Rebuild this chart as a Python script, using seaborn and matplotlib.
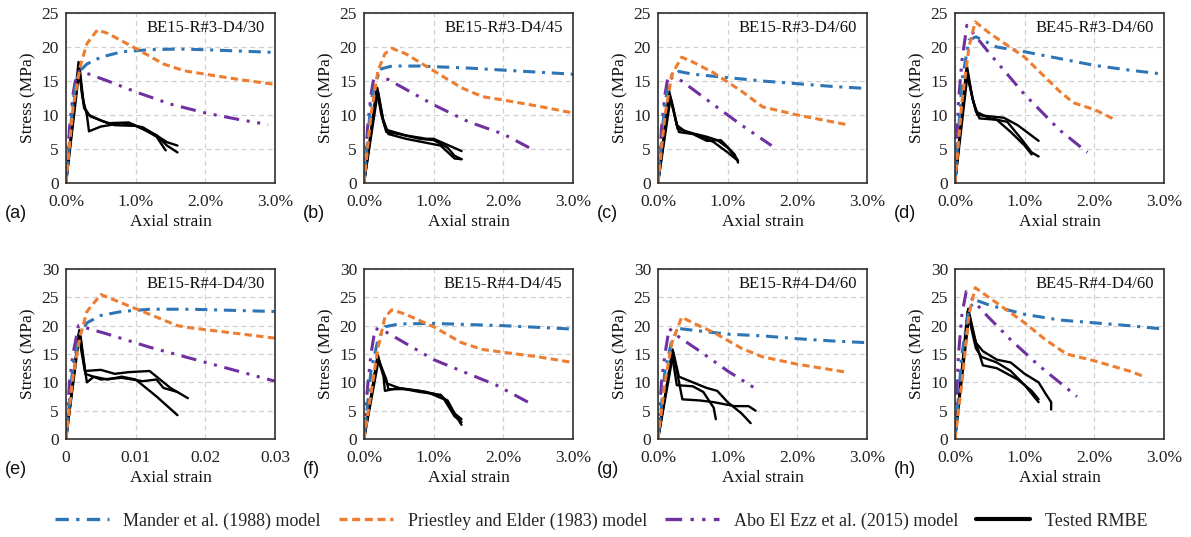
import numpy as np
import pandas as pd
import matplotlib
matplotlib.use("Agg")
import matplotlib.pyplot as plt
import seaborn as sns
from matplotlib.ticker import PercentFormatter, FuncFormatter, MultipleLocator
from matplotlib.lines import Line2D

# ---------------- data (strain as fraction, stress in MPa) ----------------
titles = ["BE15-R#3-D4/30", "BE15-R#3-D4/45", "BE15-R#3-D4/60", "BE45-R#3-D4/60",
          "BE15-R#4-D4/30", "BE15-R#4-D4/45", "BE15-R#4-D4/60", "BE45-R#4-D4/60"]
letters = ["(a)", "(b)", "(c)", "(d)", "(e)", "(f)", "(g)", "(h)"]
y_max = [25, 25, 25, 25, 30, 30, 30, 30]
x_ticks = [0, 0.01, 0.02, 0.03]
legend_labels = ["Mander et al. (1988) model", "Priestley and Elder (1983) model",
                 "Abo El Ezz et al. (2015) model", "Tested RMBE"]

# (a)
mander_a = [(0, 0), (0.001, 12), (0.0015, 15), (0.002, 16.5), (0.003, 17.5), (0.005, 18.5), (0.008, 19.3), (0.012, 19.6), (0.016, 19.7), (0.02, 19.6), (0.025, 19.4), (0.03, 19.2)]
priestley_a = [(0, 0), (0.001, 11), (0.002, 17), (0.003, 20.5), (0.0045, 22.5), (0.006, 22), (0.01, 19.8), (0.014, 17.5), (0.017, 16.5), (0.02, 16.0), (0.025, 15.2), (0.03, 14.5)]
abo_a = [(0, 0), (0.0005, 8), (0.001, 13), (0.0015, 16), (0.002, 16.5), (0.006, 15), (0.01, 13.4), (0.015, 11.6), (0.02, 10.3), (0.025, 9.3), (0.029, 8.6)]
test1_a = [(0, 0), (0.0019, 17.5), (0.0025, 12), (0.003, 10), (0.0033, 7.6), (0.005, 8.3), (0.008, 8.8), (0.011, 8.2), (0.013, 7), (0.0145, 6), (0.016, 5.5)]
test2_a = [(0, 0), (0.0018, 17.8), (0.0023, 13), (0.0027, 11), (0.0033, 10), (0.005, 9.2), (0.007, 8.5), (0.01, 8.4), (0.013, 7.0), (0.0145, 5.5), (0.016, 4.5)]
test3_a = [(0, 0), (0.0019, 16.5), (0.0026, 11), (0.0035, 9.8), (0.006, 8.8), (0.009, 8.9), (0.011, 8.0), (0.013, 6.8), (0.0143, 4.8)]

# (b)
mander_b = [(0, 0), (0.001, 12), (0.0017, 15), (0.0025, 16.8), (0.004, 17.2), (0.008, 17.2), (0.015, 16.9), (0.02, 16.6), (0.025, 16.3), (0.03, 16.0)]
priestley_b = [(0, 0), (0.001, 10), (0.002, 16.5), (0.003, 19), (0.004, 19.8), (0.006, 19), (0.01, 16.5), (0.014, 14), (0.017, 12.7), (0.02, 12.2), (0.025, 11.3), (0.03, 10.3)]
abo_b = [(0, 0), (0.0005, 8), (0.001, 13), (0.0015, 16), (0.0035, 15.2), (0.01, 11.5), (0.015, 9.0), (0.02, 7.2), (0.0237, 5.2)]
test1_b = [(0, 0), (0.0018, 13.8), (0.0025, 10), (0.0032, 7.5), (0.005, 7.2), (0.008, 6.5), (0.01, 6.3), (0.012, 5.2), (0.013, 4.0), (0.014, 3.5)]
test2_b = [(0, 0), (0.0019, 14), (0.0027, 9.5), (0.0033, 7.8), (0.006, 7.0), (0.009, 6.5), (0.01, 6.5), (0.012, 5.6), (0.014, 4.7)]
test3_b = [(0, 0), (0.0020, 13.5), (0.0028, 9), (0.0035, 7.2), (0.006, 6.5), (0.009, 5.9), (0.011, 5.5), (0.013, 3.6), (0.014, 3.5)]

# (c)
mander_c = [(0, 0), (0.001, 12), (0.0018, 15.3), (0.003, 16.4), (0.005, 16.0), (0.01, 15.5), (0.015, 15.0), (0.02, 14.6), (0.025, 14.2), (0.03, 13.9)]
priestley_c = [(0, 0), (0.001, 10), (0.002, 16), (0.0034, 18.5), (0.005, 17.8), (0.008, 16.2), (0.012, 13.5), (0.015, 11.2), (0.02, 10), (0.025, 9), (0.027, 8.6)]
abo_c = [(0, 0), (0.0005, 8), (0.001, 13), (0.0015, 16), (0.003, 15.3), (0.008, 11.5), (0.012, 8.5), (0.0163, 5.5)]
test1_c = [(0, 0), (0.0016, 13.5), (0.0022, 11), (0.0028, 8), (0.005, 7.3), (0.007, 6.8), (0.0085, 6.3), (0.01, 5.2), (0.0115, 3.3)]
test2_c = [(0, 0), (0.0017, 12.8), (0.0025, 9.5), (0.003, 7.5), (0.005, 7.2), (0.007, 6.2), (0.009, 6.3), (0.0095, 5.8), (0.011, 4.2), (0.0115, 3.0)]
test3_c = [(0, 0), (0.0018, 12.5), (0.0027, 8.5), (0.004, 7.5), (0.006, 7.0), (0.008, 6.0), (0.010, 4.5), (0.0112, 3.5)]

# (d)
mander_d = [(0, 0), (0.001, 15), (0.002, 21), (0.003, 21.5), (0.006, 20), (0.01, 19.3), (0.015, 18.3), (0.02, 17.3), (0.025, 16.6), (0.03, 16.0)]
priestley_d = [(0, 0), (0.001, 12), (0.002, 20), (0.0029, 23.7), (0.005, 22), (0.01, 18.5), (0.015, 13.5), (0.017, 11.8), (0.02, 10.8), (0.023, 9.3)]
abo_d = [(0, 0), (0.0005, 12), (0.001, 18), (0.0017, 23.2), (0.005, 19.0), (0.01, 13), (0.015, 7.8), (0.019, 4.5)]
test1_d = [(0, 0), (0.0017, 17.3), (0.0025, 12.5), (0.0032, 10), (0.005, 9.8), (0.007, 9.6), (0.009, 8.5), (0.012, 6.2)]
test2_d = [(0, 0), (0.0016, 16.5), (0.0024, 13), (0.003, 10.5), (0.005, 9.5), (0.0075, 9.0), (0.0095, 6.5), (0.011, 4.5), (0.012, 3.9)]
test3_d = [(0, 0), (0.0018, 16), (0.0026, 12), (0.0035, 9.5), (0.006, 9.3), (0.008, 7.5), (0.010, 5.5), (0.011, 4.2)]

# (e)
mander_e = [(0, 0), (0.001, 13), (0.002, 18.5), (0.003, 20.5), (0.005, 21.8), (0.008, 22.5), (0.012, 22.9), (0.018, 22.9), (0.024, 22.7), (0.03, 22.5)]
priestley_e = [(0, 0), (0.001, 11), (0.002, 18), (0.003, 22.5), (0.005, 25.5), (0.008, 24), (0.012, 22), (0.016, 20), (0.018, 19.6), (0.022, 19), (0.026, 18.4), (0.03, 17.8)]
abo_e = [(0, 0), (0.0005, 10), (0.001, 15), (0.0018, 20), (0.006, 18.5), (0.012, 16.2), (0.018, 14.2), (0.024, 12.2), (0.03, 10.2)]
test1_e = [(0, 0), (0.0019, 19.2), (0.0025, 14), (0.003, 10), (0.004, 11), (0.006, 10.5), (0.008, 11), (0.010, 10.5), (0.013, 7.5), (0.016, 4.2)]
test2_e = [(0, 0), (0.0018, 18.5), (0.0027, 12), (0.005, 12.2), (0.007, 11.5), (0.009, 11.8), (0.012, 12), (0.013, 11), (0.015, 9), (0.0175, 7.2)]
test3_e = [(0, 0), (0.002, 19), (0.0028, 11.5), (0.005, 10.5), (0.008, 10.8), (0.011, 10.2), (0.013, 10.5), (0.014, 9.0), (0.016, 8.3)]

# (f)
mander_f = [(0, 0), (0.001, 12), (0.002, 17.5), (0.003, 19.8), (0.005, 20.3), (0.01, 20.4), (0.015, 20.2), (0.02, 20), (0.025, 19.7), (0.03, 19.4)]
priestley_f = [(0, 0), (0.001, 8), (0.002, 16), (0.003, 21.5), (0.004, 22.8), (0.006, 22), (0.01, 19.8), (0.014, 17), (0.017, 15.8), (0.02, 15.3), (0.025, 14.5), (0.03, 13.5)]
abo_f = [(0, 0), (0.0005, 9), (0.001, 15), (0.0016, 19.5), (0.003, 19), (0.01, 14), (0.015, 11.5), (0.019, 9.5), (0.0237, 6.4)]
test1_f = [(0, 0), (0.002, 14.8), (0.0028, 11), (0.003, 8.5), (0.005, 9), (0.008, 8.5), (0.010, 8.0), (0.012, 6.8), (0.013, 4.5), (0.014, 3.5)]
test2_f = [(0, 0), (0.0019, 14.3), (0.0026, 12), (0.0033, 9.8), (0.005, 9.0), (0.008, 8.3), (0.011, 7.8), (0.012, 6.5), (0.014, 2.5)]
test3_f = [(0, 0), (0.0021, 14.0), (0.0032, 10.5), (0.0035, 8.8), (0.006, 8.8), (0.009, 8.3), (0.0115, 7.0), (0.013, 4.0), (0.014, 3.0)]

# (g)
mander_g = [(0, 0), (0.001, 12), (0.002, 17.5), (0.003, 19.5), (0.005, 19.2), (0.01, 18.5), (0.015, 18.2), (0.02, 17.7), (0.025, 17.3), (0.03, 17.0)]
priestley_g = [(0, 0), (0.001, 10), (0.002, 17), (0.0034, 21.5), (0.005, 20.5), (0.008, 18.8), (0.012, 16), (0.015, 14.5), (0.02, 13.2), (0.025, 12.2), (0.027, 11.8)]
abo_g = [(0, 0), (0.0005, 10), (0.001, 15), (0.0016, 19.5), (0.003, 18), (0.006, 15.5), (0.01, 12), (0.0145, 8.5)]
test1_g = [(0, 0), (0.0021, 15.8), (0.003, 11), (0.004, 10.5), (0.007, 9.0), (0.0085, 8.5), (0.01, 6.5), (0.012, 4.5), (0.0133, 2.8)]
test2_g = [(0, 0), (0.002, 15), (0.0027, 9.5), (0.005, 9.3), (0.0065, 8.3), (0.008, 5.5), (0.0083, 3.5)]
test3_g = [(0, 0), (0.0022, 15.2), (0.0035, 7), (0.006, 6.8), (0.008, 6.5), (0.011, 5.8), (0.013, 5.8), (0.014, 5.0)]

# (h)
mander_h = [(0, 0), (0.001, 15), (0.002, 23), (0.003, 24.5), (0.005, 23.6), (0.01, 22), (0.015, 21.0), (0.02, 20.5), (0.025, 20), (0.03, 19.4)]
priestley_h = [(0, 0), (0.001, 10), (0.002, 22), (0.0029, 26.7), (0.006, 24), (0.01, 20.5), (0.013, 17.5), (0.016, 15), (0.02, 13.8), (0.025, 12), (0.027, 11.1)]
abo_h = [(0, 0), (0.0005, 15), (0.001, 22), (0.0016, 26), (0.004, 22.5), (0.008, 17.5), (0.012, 13.0), (0.0175, 7.5)]
test1_h = [(0, 0), (0.0019, 23), (0.003, 17), (0.004, 15.5), (0.006, 14), (0.008, 13.5), (0.01, 11.5), (0.012, 10), (0.013, 8), (0.0138, 6.5), (0.0138, 5.2)]
test2_h = [(0, 0), (0.0018, 22.5), (0.003, 16), (0.0038, 14.5), (0.006, 13.5), (0.008, 12), (0.010, 9.5), (0.012, 6.5)]
test3_h = [(0, 0), (0.002, 21.5), (0.003, 17), (0.004, 13), (0.006, 12.5), (0.009, 10.5), (0.011, 8.5), (0.012, 7)]

panels = [
    (mander_a, priestley_a, abo_a, [test1_a, test2_a, test3_a]),
    (mander_b, priestley_b, abo_b, [test1_b, test2_b, test3_b]),
    (mander_c, priestley_c, abo_c, [test1_c, test2_c, test3_c]),
    (mander_d, priestley_d, abo_d, [test1_d, test2_d, test3_d]),
    (mander_e, priestley_e, abo_e, [test1_e, test2_e, test3_e]),
    (mander_f, priestley_f, abo_f, [test1_f, test2_f, test3_f]),
    (mander_g, priestley_g, abo_g, [test1_g, test2_g, test3_g]),
    (mander_h, priestley_h, abo_h, [test1_h, test2_h, test3_h]),
]

# ---------------- styling ----------------
sns.set_theme(style="white")
plt.rcParams['font.family'] = ['Liberation Serif', 'DejaVu Serif']

C_MANDER = "#2E75B6"
C_PRIEST = "#ED7D31"
C_ABO = "#7030A0"
C_TEST = "#000000"
LS_MANDER = (0, (4, 2.2, 1, 2.2))
LS_PRIEST = (0, (2.4, 1.4))
LS_ABO = (0, (5, 2.5, 1, 2.5, 1, 2.5))

W, H = 1191, 537
fig = plt.figure(figsize=(W / 100, H / 100), dpi=100)

lefts = [66, 364, 658, 955]
row_tops = [13, 269]
ax_w, ax_h = 209, 170

def to_df(pts):
    arr = np.array(pts, dtype=float)
    return pd.DataFrame({"strain": arr[:, 0], "stress": arr[:, 1]})

for i, (mander, priest, abo, tests) in enumerate(panels):
    r, c = divmod(i, 4)
    l = lefts[c]
    t = row_tops[r]
    ax = fig.add_axes([l / W, 1 - (t + ax_h) / H, ax_w / W, ax_h / H])
    kw = dict(x="strain", y="stress", ax=ax, sort=False, estimator=None, legend=False)
    for tp in tests:
        sns.lineplot(data=to_df(tp), color=C_TEST, lw=1.7, **kw)
    sns.lineplot(data=to_df(abo), color=C_ABO, lw=2.2, linestyle=LS_ABO, **kw)
    sns.lineplot(data=to_df(mander), color=C_MANDER, lw=2.2, linestyle=LS_MANDER, **kw)
    sns.lineplot(data=to_df(priest), color=C_PRIEST, lw=2.2, linestyle=LS_PRIEST, **kw)

    ax.set_xlim(0, 0.03)
    ax.set_ylim(0, y_max[i])
    ax.set_xticks(x_ticks)
    ax.yaxis.set_major_locator(MultipleLocator(5))
    if i == 4:
        ax.xaxis.set_major_formatter(FuncFormatter(lambda v, p: f"{v:g}"))
    else:
        ax.xaxis.set_major_formatter(PercentFormatter(xmax=1, decimals=1))
    ax.tick_params(axis="both", length=0, labelsize=12.5, colors="#222222")
    ax.tick_params(axis="x", pad=8)
    ax.tick_params(axis="y", pad=5)
    ax.grid(True, color="#d0d0d0", linestyle=(0, (4, 3)), linewidth=0.9)
    ax.set_axisbelow(True)
    for sp in ax.spines.values():
        sp.set_visible(True)
        sp.set_color("#303030")
        sp.set_linewidth(1.2)
    ax.set_xlabel("Axial strain", fontsize=12.5, labelpad=3, color="#111111")
    ax.set_ylabel("Stress (MPa)", fontsize=12.5, labelpad=4, color="#111111")
    ax.text(0.95, 0.91, titles[i], transform=ax.transAxes, ha="right", va="center",
            fontsize=12, color="#111111")
    fig.text((l - 61) / W, 1 - (t + 200) / H, letters[i], fontsize=13,
             family=["Liberation Sans", "DejaVu Sans"], ha="left", va="center", color="#111111")

handles = [
    Line2D([], [], color=C_MANDER, lw=2.4, linestyle=LS_MANDER),
    Line2D([], [], color=C_PRIEST, lw=2.4, linestyle=LS_PRIEST),
    Line2D([], [], color=C_ABO, lw=2.4, linestyle=LS_ABO),
    Line2D([], [], color=C_TEST, lw=3.0),
]
fig.legend(handles, legend_labels, loc="center", bbox_to_anchor=(601 / W, 1 - 521 / H),
           ncol=4, frameon=False, fontsize=13, handlelength=3.0, handletextpad=0.8,
           columnspacing=1.0)

fig.savefig("out.png", dpi=100)
